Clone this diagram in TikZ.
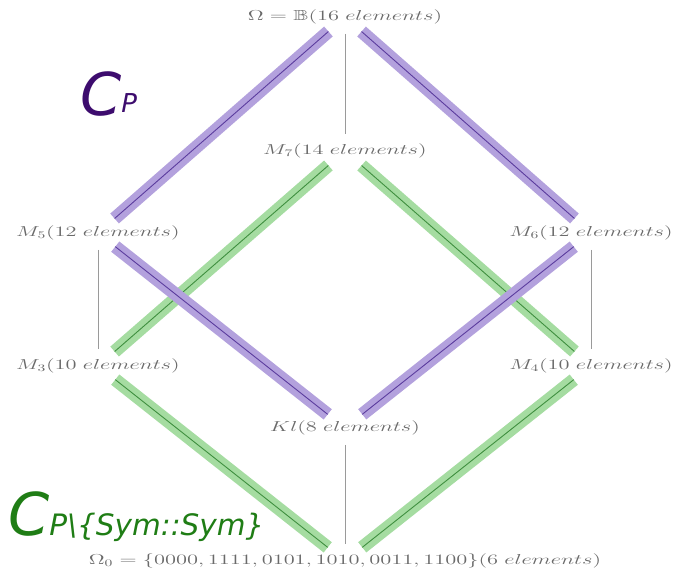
\documentclass[tikz,border=0pt]{standalone}
\usepackage{amssymb}
\usepackage{graphicx}
\usepackage{fontspec}
\newfontfamily\capfont{DejaVu Sans}
\usepackage{xcolor}
\usetikzlibrary{positioning}

\definecolor{latgray}{HTML}{6A6A6A}
\definecolor{edgegray}{HTML}{9A9A9A}
\definecolor{purpband}{HTML}{B3A1DD}
\definecolor{purpcore}{HTML}{5B3C9E}
\definecolor{greenband}{HTML}{A5DCA1}
\definecolor{greencore}{HTML}{3F8F3F}
\definecolor{purptext}{HTML}{3D0C6E}
\definecolor{greentext}{HTML}{1F7D15}

\newcommand{\widelabel}[1]{\scalebox{1.56}[1]{#1}}

\begin{document}
\begin{tikzpicture}[
  x=1pt, y=-1pt,
  lattice/.style={text=latgray, inner sep=0pt, font=\fontsize{14.6}{16}\selectfont},
  cover/.style={draw=edgegray, line width=0.8pt, shorten >=17pt, shorten <=17pt},
  pchain/.style={draw=purpband, double=purpcore, double distance=0.9pt, line width=6.1pt, shorten >=22pt, shorten <=22pt},
  gchain/.style={draw=greenband, double=greencore, double distance=0.9pt, line width=6.1pt, shorten >=22pt, shorten <=22pt}
]
\useasboundingbox (0,0) rectangle (673,577);

\node[lattice] (omega) at (345,17) {\widelabel{$\Omega=\mathbb{B}(16\;elements)$}};
\node[lattice] (m7) at (345,151) {\widelabel{$M_7(14\;elements)$}};
\node[lattice] (m5) at (98,233) {\widelabel{$M_5(12\;elements)$}};
\node[lattice] (m6) at (591,233) {\widelabel{$M_6(12\;elements)$}};
\node[lattice] (m3) at (98,366) {\widelabel{$M_3(10\;elements)$}};
\node[lattice] (m4) at (591,366) {\widelabel{$M_4(10\;elements)$}};
\node[lattice] (kl) at (345,428) {\widelabel{$Kl(8\;elements)$}};
\node[lattice] (omega0) at (345,561) {\widelabel{$\Omega_0=\{0000,1111,0101,1010,0011,1100\}(6\;elements)$}};

\node[anchor=base west, inner sep=0pt, text=purptext] (cp) at (80,116)
  {\capfont\itshape\fontsize{59}{59}\selectfont C\raisebox{3pt}{\fontsize{26}{26}\selectfont P}};
\node[anchor=base west, inner sep=0pt, text=greentext] (cpsym) at (8,536)
  {\capfont\itshape\fontsize{59}{59}\selectfont C\fontsize{29.5}{29.5}\selectfont P\textbackslash\{Sym::Sym\}};

% covering relations
\draw[cover] (omega.center) -- (m7.center);
\draw[cover] (m5.center) -- (m3.center);
\draw[cover] (m6.center) -- (m4.center);
\draw[cover] (kl.center) -- (omega0.center);

% green chain
\draw[gchain] (m7.center) -- (m3.center);
\draw[gchain] (m7.center) -- (m4.center);
\draw[gchain] (m3.center) -- (omega0.center);
\draw[gchain] (m4.center) -- (omega0.center);

% purple chain
\draw[pchain] (omega.center) -- (m5.center);
\draw[pchain] (omega.center) -- (m6.center);
\draw[pchain] (m5.center) -- (kl.center);
\draw[pchain] (m6.center) -- (kl.center);
\end{tikzpicture}
\end{document}
